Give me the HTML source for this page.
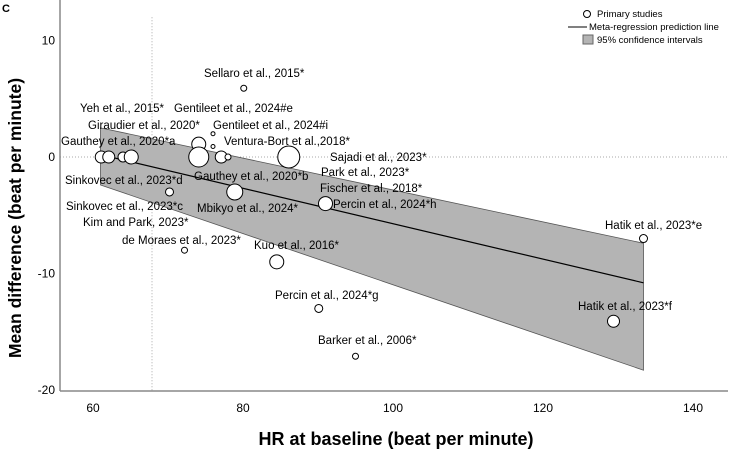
<!DOCTYPE html>
<html><head><meta charset="utf-8"><style>
body{margin:0;background:#fff;}
svg{display:block;font-family:"Liberation Sans",Arial,sans-serif;}
</style></head><body>
<svg id="chart" width="733" height="452" viewBox="0 0 733 452" xmlns="http://www.w3.org/2000/svg">
<text x="2" y="12" font-size="11" font-weight="bold">C</text>
<g id="plot"></g>
<text x="396" y="445" text-anchor="middle" font-size="18" font-weight="bold">HR at baseline (beat per minute)</text>
<text transform="translate(21,218) rotate(-90)" text-anchor="middle" font-size="17.5" font-weight="bold">Mean difference (beat per minute)</text>
<g font-size="9.5">
<circle cx="587" cy="14" r="3.5" fill="#fff" stroke="#000"/>
<text x="597" y="17">Primary studies</text>
<line x1="568" y1="27" x2="587" y2="27" stroke="#000"/>
<text x="589" y="30">Meta-regression prediction line</text>
<rect x="583" y="35" width="10" height="9" fill="#b4b4b4" stroke="#666"/>
<text x="597" y="43">95% confidence intervals</text>
</g>
</svg>
<script>
const xTicks=[60,80,100,120,140];
const yTicks=[10,0,-10,-20];
const hr=[61.1,62.1,64,65.1,74.1,74.1,76,76,77.1,78,86.1,80.1,70.2,78.9,91,72.2,84.5,90.1,95,133.4,129.4];
const md=[0,0,0,0,1.1,0,2.0,0.9,0,0,0,5.9,-3.0,-3.0,-4.0,-8.0,-9.0,-13.0,-17.1,-7.0,-14.1];
const radius=[6,6,5,7,7,10,2,2,6,3,11,3,4,8,7,3,7,4,3,4,6];
const lineX=[61,133.4];
const lineY=[0.2,-10.8];
const ciUpper=[2.5,-7.4];
const ciLower=[-2.4,-18.3];
const labels=["Sellaro et al., 2015*","Yeh et al., 2015*","Gentileet et al., 2024#e","Giraudier et al., 2020*","Gentileet et al., 2024#i","Gauthey et al., 2020*a","Ventura-Bort et al.,2018*","Sajadi et al., 2023*","Park et al., 2023*","Sinkovec et al., 2023*d","Gauthey et al., 2020*b","Fischer et al., 2018*","Percin et al., 2024*h","Sinkovec et al., 2023*c","Mbikyo et al., 2024*","Kim and Park, 2023*","de Moraes et al., 2023*","Kuo et al., 2016*","Hatik et al., 2023*e","Percin et al., 2024*g","Hatik et al., 2023*f","Barker et al., 2006*"];
const labelAt=[[204,77],[80,112],[174,112],[88,129],[213,129],[61,145],[224,145],[330,161],[321,176],[65,184],[194,180],[320,192],[333,208],[66,210],[197,212],[83,226],[122,244],[254,249],[605,229],[275,299],[578,310],[318,344]];
const NS="http://www.w3.org/2000/svg";
const X=v=>93+(v-60)*7.5;
const Y=v=>157-v*11.65;
const g=document.getElementById('plot');
function mk(t,a){const e=document.createElementNS(NS,t);for(const k in a)e.setAttribute(k,a[k]);g.appendChild(e);return e;}
let e;
e=mk('line',{x1:152,y1:Y(12),x2:152,y2:Y(-20.1),stroke:'#aaa','stroke-dasharray':'1,2'});


e=mk('line',{x1:60,y1:Y(0),x2:728,y2:Y(0),stroke:'#aaa','stroke-dasharray':'1,2'});


e=mk('polygon',{points:`${X(lineX[0])},${Y(ciUpper[0])} ${X(lineX[1])},${Y(ciUpper[1])} ${X(lineX[1])},${Y(ciLower[1])} ${X(lineX[0])},${Y(ciLower[0])}`,fill:'#b4b4b4',stroke:'#555','stroke-width':0.8});


e=mk('line',{x1:X(lineX[0]),y1:Y(lineY[0]),x2:X(lineX[1]),y2:Y(lineY[1]),stroke:'#000','stroke-width':1.2});


e=mk('line',{x1:60,y1:0,x2:60,y2:391,stroke:'#888','stroke-width':1.5});


e=mk('line',{x1:60,y1:391,x2:728,y2:391,stroke:'#888','stroke-width':1.5});


xTicks.forEach(t=>{const el=mk('text',{x:X(t),y:412,'text-anchor':'middle','font-size':12});el.textContent=t;

});
yTicks.forEach(t=>{const el=mk('text',{x:55,y:Y(t)+4,'text-anchor':'end','font-size':12});el.textContent=t;

});
hr.forEach((v,i)=>{const c=mk('circle',{cx:X(v),cy:Y(md[i]),r:radius[i],fill:'#fff',stroke:'#000','stroke-width':1});

});
labels.forEach((s,i)=>{const t=mk('text',{x:labelAt[i][0],y:labelAt[i][1],'font-size':11.5});t.textContent=s;

});
</script>
</body></html>
